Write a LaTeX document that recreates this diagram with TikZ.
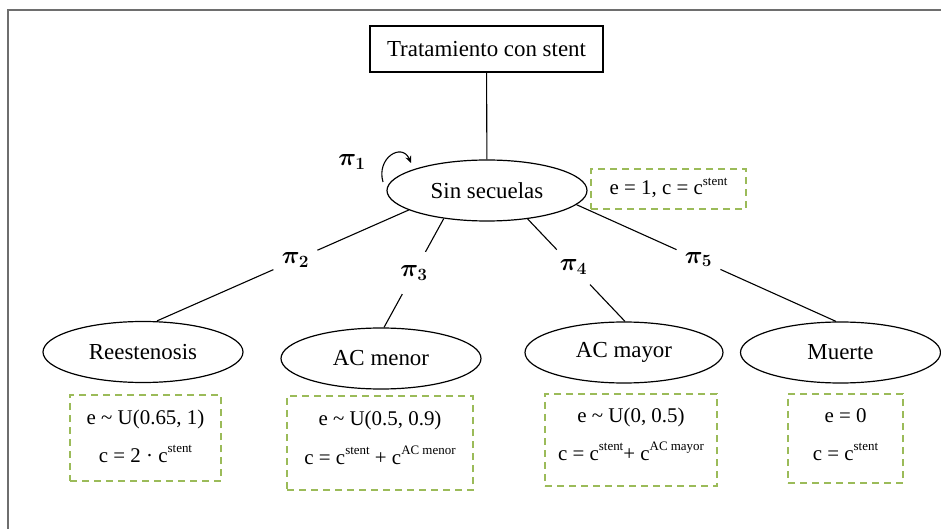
\documentclass[tikz,border=0pt]{standalone}
\usepackage{fontspec}
\usepackage{bm}
\setmainfont{Liberation Serif}
\usetikzlibrary{shapes.geometric, arrows.meta}
\definecolor{boxgreen}{HTML}{9BBB59}
\definecolor{framegray}{HTML}{6E6E6E}
\newcommand{\supx}[1]{\raisebox{0.45em}{\fontsize{13}{13}\selectfont #1}}
\newcommand{\pix}[1]{$\bm{\pi}_{\bm{#1}}$}
\begin{document}
\begin{tikzpicture}[x=1bp, y=-1bp,
  state/.style={ellipse, draw, line width=1.2bp, minimum width=200bp, minimum height=61bp, inner sep=0pt, font=\fontsize{23}{27}\selectfont},
  topbox/.style={draw, line width=1.2bp, minimum width=233bp, minimum height=46bp, inner sep=0pt, font=\fontsize{23}{27}\selectfont},
  databox/.style={draw=boxgreen, line width=2bp, dash pattern=on 7bp off 5bp, inner sep=0pt},
  datatext/.style={font=\fontsize{21}{25}\selectfont, inner sep=0pt, anchor=base},
  link/.style={line width=1.1bp},
  plabel/.style={circle, fill=white, minimum size=48bp, inner sep=0pt, font=\fontsize{24}{28}\selectfont}]
\useasboundingbox (0,0) rectangle (941,529);
\fill[white] (0,0) rectangle (941,529);
% frame
\draw[framegray, line width=1.5bp] (8,529) -- (8,10) -- (941,10);
% nodes
\node[topbox] (top) at (486.5,49) {Tratamiento con stent};
\node[state] (ss) at (487,190.5) {Sin secuelas};
\node[state] (reest) at (143,352) {Reestenosis};
\node[state] (acmen) at (381,358.5) {AC menor};
\node[state, minimum width=198bp] (acmay) at (624,352.5) {AC mayor};
\node[state] (muerte) at (840.5,352.5) {Muerte};
% connectors
\draw[link] (top) -- (ss);
\draw[link] (ss.194.6) -- node[plabel, pos=0.45] {\pix{2}} ([xshift=14bp]reest.north);
\draw[link] (ss.213.4) -- node[plabel, pos=0.5] {\pix{3}} ([xshift=3bp]acmen.north);
\draw[link] (ss.-35.8) -- node[plabel, pos=0.47] {\pix{4}} ([xshift=1bp]acmay.north);
\draw[link] (ss.-9.8) -- node[plabel, pos=0.47] {\pix{5}} ([xshift=-4.5bp]muerte.north);
% self loop
\coordinate (loopA) at (383,182);
\coordinate (loopB) at (411,163);
\draw[link, -{Stealth[length=7bp, width=6bp]}] (loopA) .. controls (376,158) and (402,142) .. (loopB);
\node[font=\fontsize{24}{28}\selectfont] (p1) at (352,162) {\pix{1}};
% data boxes
\node[databox, minimum width=155bp, minimum height=40bp] (d0) at (668.5,189) {};
\node[datatext] (d0t) at (668.5,195) {e = 1, c = c\supx{stent}};
\node[databox, minimum width=151bp, minimum height=86bp] (d1) at (145.5,438) {};
\node[datatext] (d1e) at (145.5,424) {e \textasciitilde{} U(0.65, 1)};
\node[datatext] (d1c) at (145.5,462) {c = 2 · c\supx{stent}};
\node[databox, minimum width=186bp, minimum height=94bp] (d2) at (380,443) {};
\node[datatext] (d2e) at (380,425) {e \textasciitilde{} U(0.5, 0.9)};
\node[datatext] (d2c) at (380,464) {c = c\supx{stent} + c\supx{AC menor}};
\node[databox, minimum width=172bp, minimum height=92bp] (d3) at (631,440) {};
\node[datatext] (d3e) at (631,422) {e \textasciitilde{} U(0, 0.5)};
\node[datatext] (d3c) at (631,460) {c = c\supx{stent}+ c\supx{AC mayor}};
\node[databox, minimum width=115bp, minimum height=89bp] (d4) at (845.5,438.5) {};
\node[datatext] (d4e) at (845.5,422) {e = 0};
\node[datatext] (d4c) at (845.5,460) {c = c\supx{stent}};
\end{tikzpicture}
\end{document}
